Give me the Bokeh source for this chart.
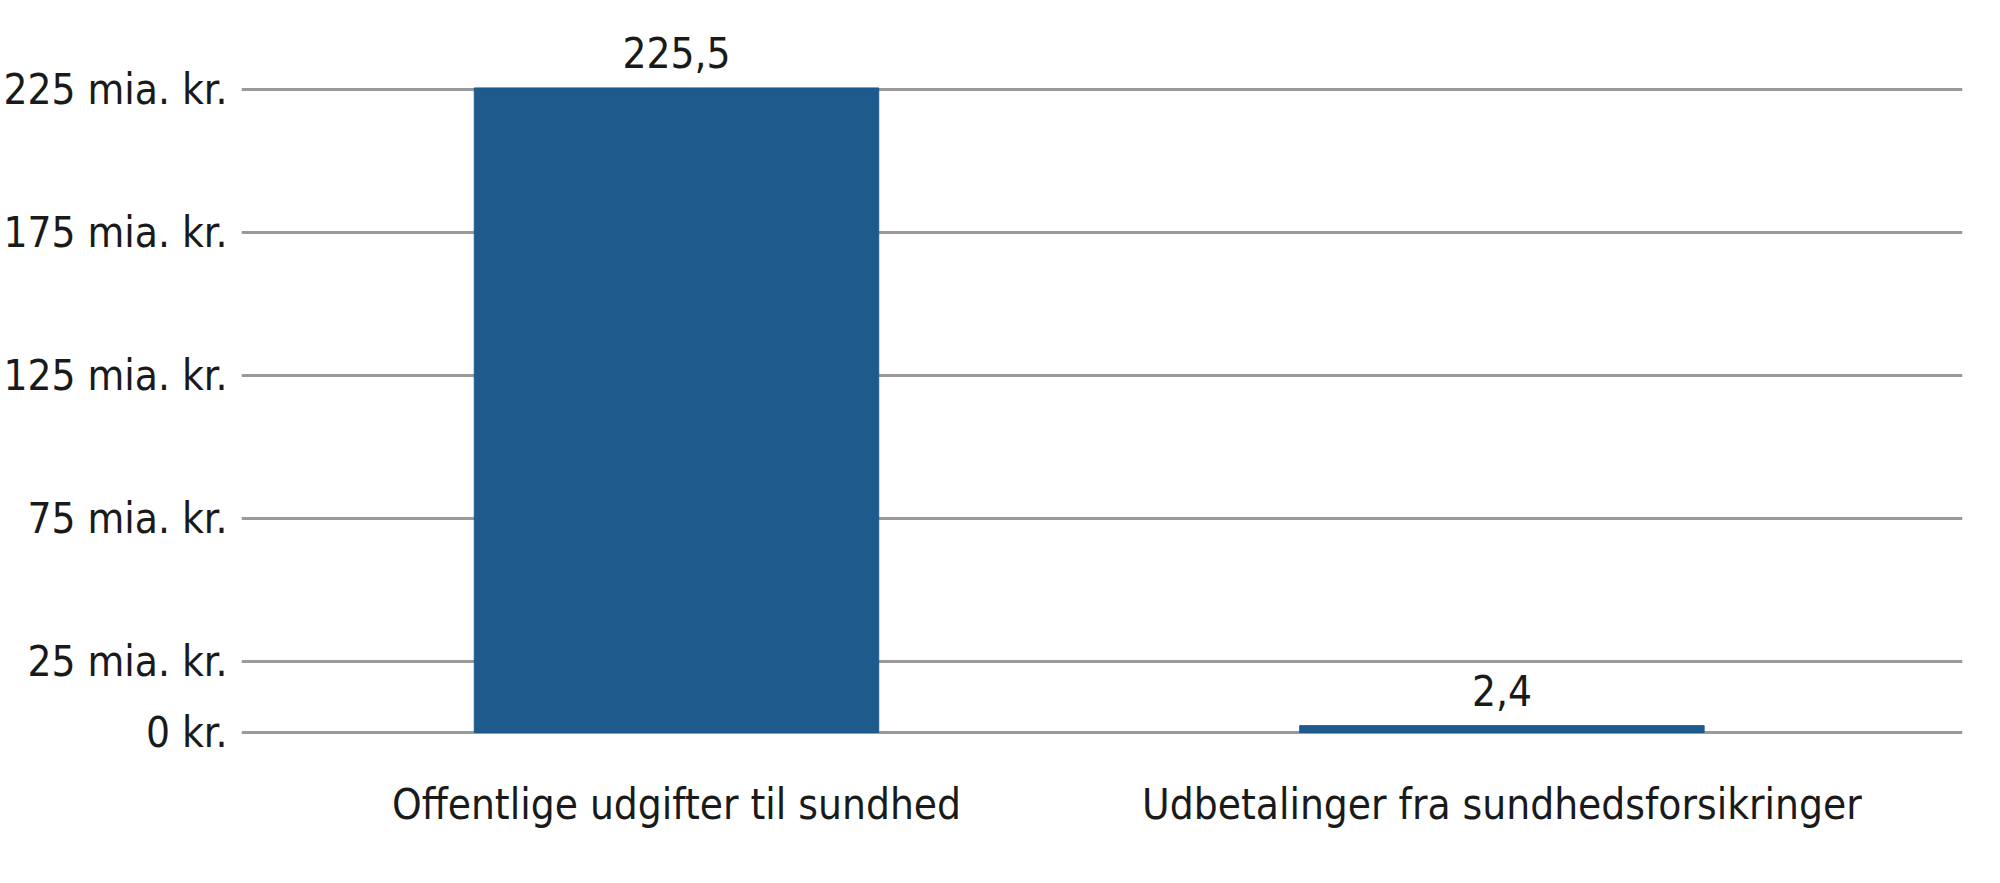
from bokeh.plotting import figure
from bokeh.models import Range1d, FixedTicker, ColumnDataSource
from bokeh.core.properties import value
from bokeh.embed import file_html
from bokeh.resources import INLINE

# Data.
categories = ["Offentlige udgifter til sundhed", "Udbetalinger fra sundhedsforsikringer"]
amounts = [225.5, 2.4]
amount_labels = ["225,5", "2,4"]
y_ticks = [0, 25, 75, 125, 175, 225]
y_tick_labels = ["0 kr.", "25 mia. kr.", "75 mia. kr.", "125 mia. kr.", "175 mia. kr.", "225 mia. kr."]

FONT = "DejaVu Sans Condensed"
BAR_COLOR = "#1f5a8c"
TEXT_COLOR = "#1a1a1a"

xs = list(range(len(categories)))
source = ColumnDataSource(data={
    "x": xs,
    "amount": amounts,
    "label": amount_labels,
})

p = figure(
    width=1984, height=860,
    x_range=Range1d(-0.527, 1.558), y_range=Range1d(-5.6, 246.3),
    output_backend="svg", toolbar_location=None,
    min_border_left=240, min_border_right=22,
    min_border_top=28, min_border_bottom=112,
)
p.outline_line_color = None
p.xgrid.grid_line_color = None
p.ygrid.grid_line_color = "#9a9a9a"
p.ygrid.grid_line_width = 3

p.vbar(x="x", top="amount", bottom=0, width=0.49, color=BAR_COLOR, source=source)
p.text(
    x="x", y="amount", text="label", source=source,
    text_font=value(FONT), text_font_size="42px", text_color=TEXT_COLOR,
    text_align="center", text_baseline="bottom", y_offset=-20,
)

p.yaxis.ticker = FixedTicker(ticks=y_ticks)
p.yaxis.major_label_overrides = dict(zip(y_ticks, y_tick_labels))
p.xaxis.ticker = FixedTicker(ticks=xs)
p.xaxis.major_label_overrides = dict(zip(xs, categories))
for ax in (p.xaxis, p.yaxis):
    ax.axis_line_color = None
    ax.major_tick_line_color = None
    ax.minor_tick_line_color = None
    ax.major_label_text_font = FONT
    ax.major_label_text_font_size = "42px"
    ax.major_label_text_color = TEXT_COLOR
p.yaxis.major_label_standoff = 8
p.xaxis.major_label_standoff = 25

open("out.html", "w").write(file_html(p, INLINE))
